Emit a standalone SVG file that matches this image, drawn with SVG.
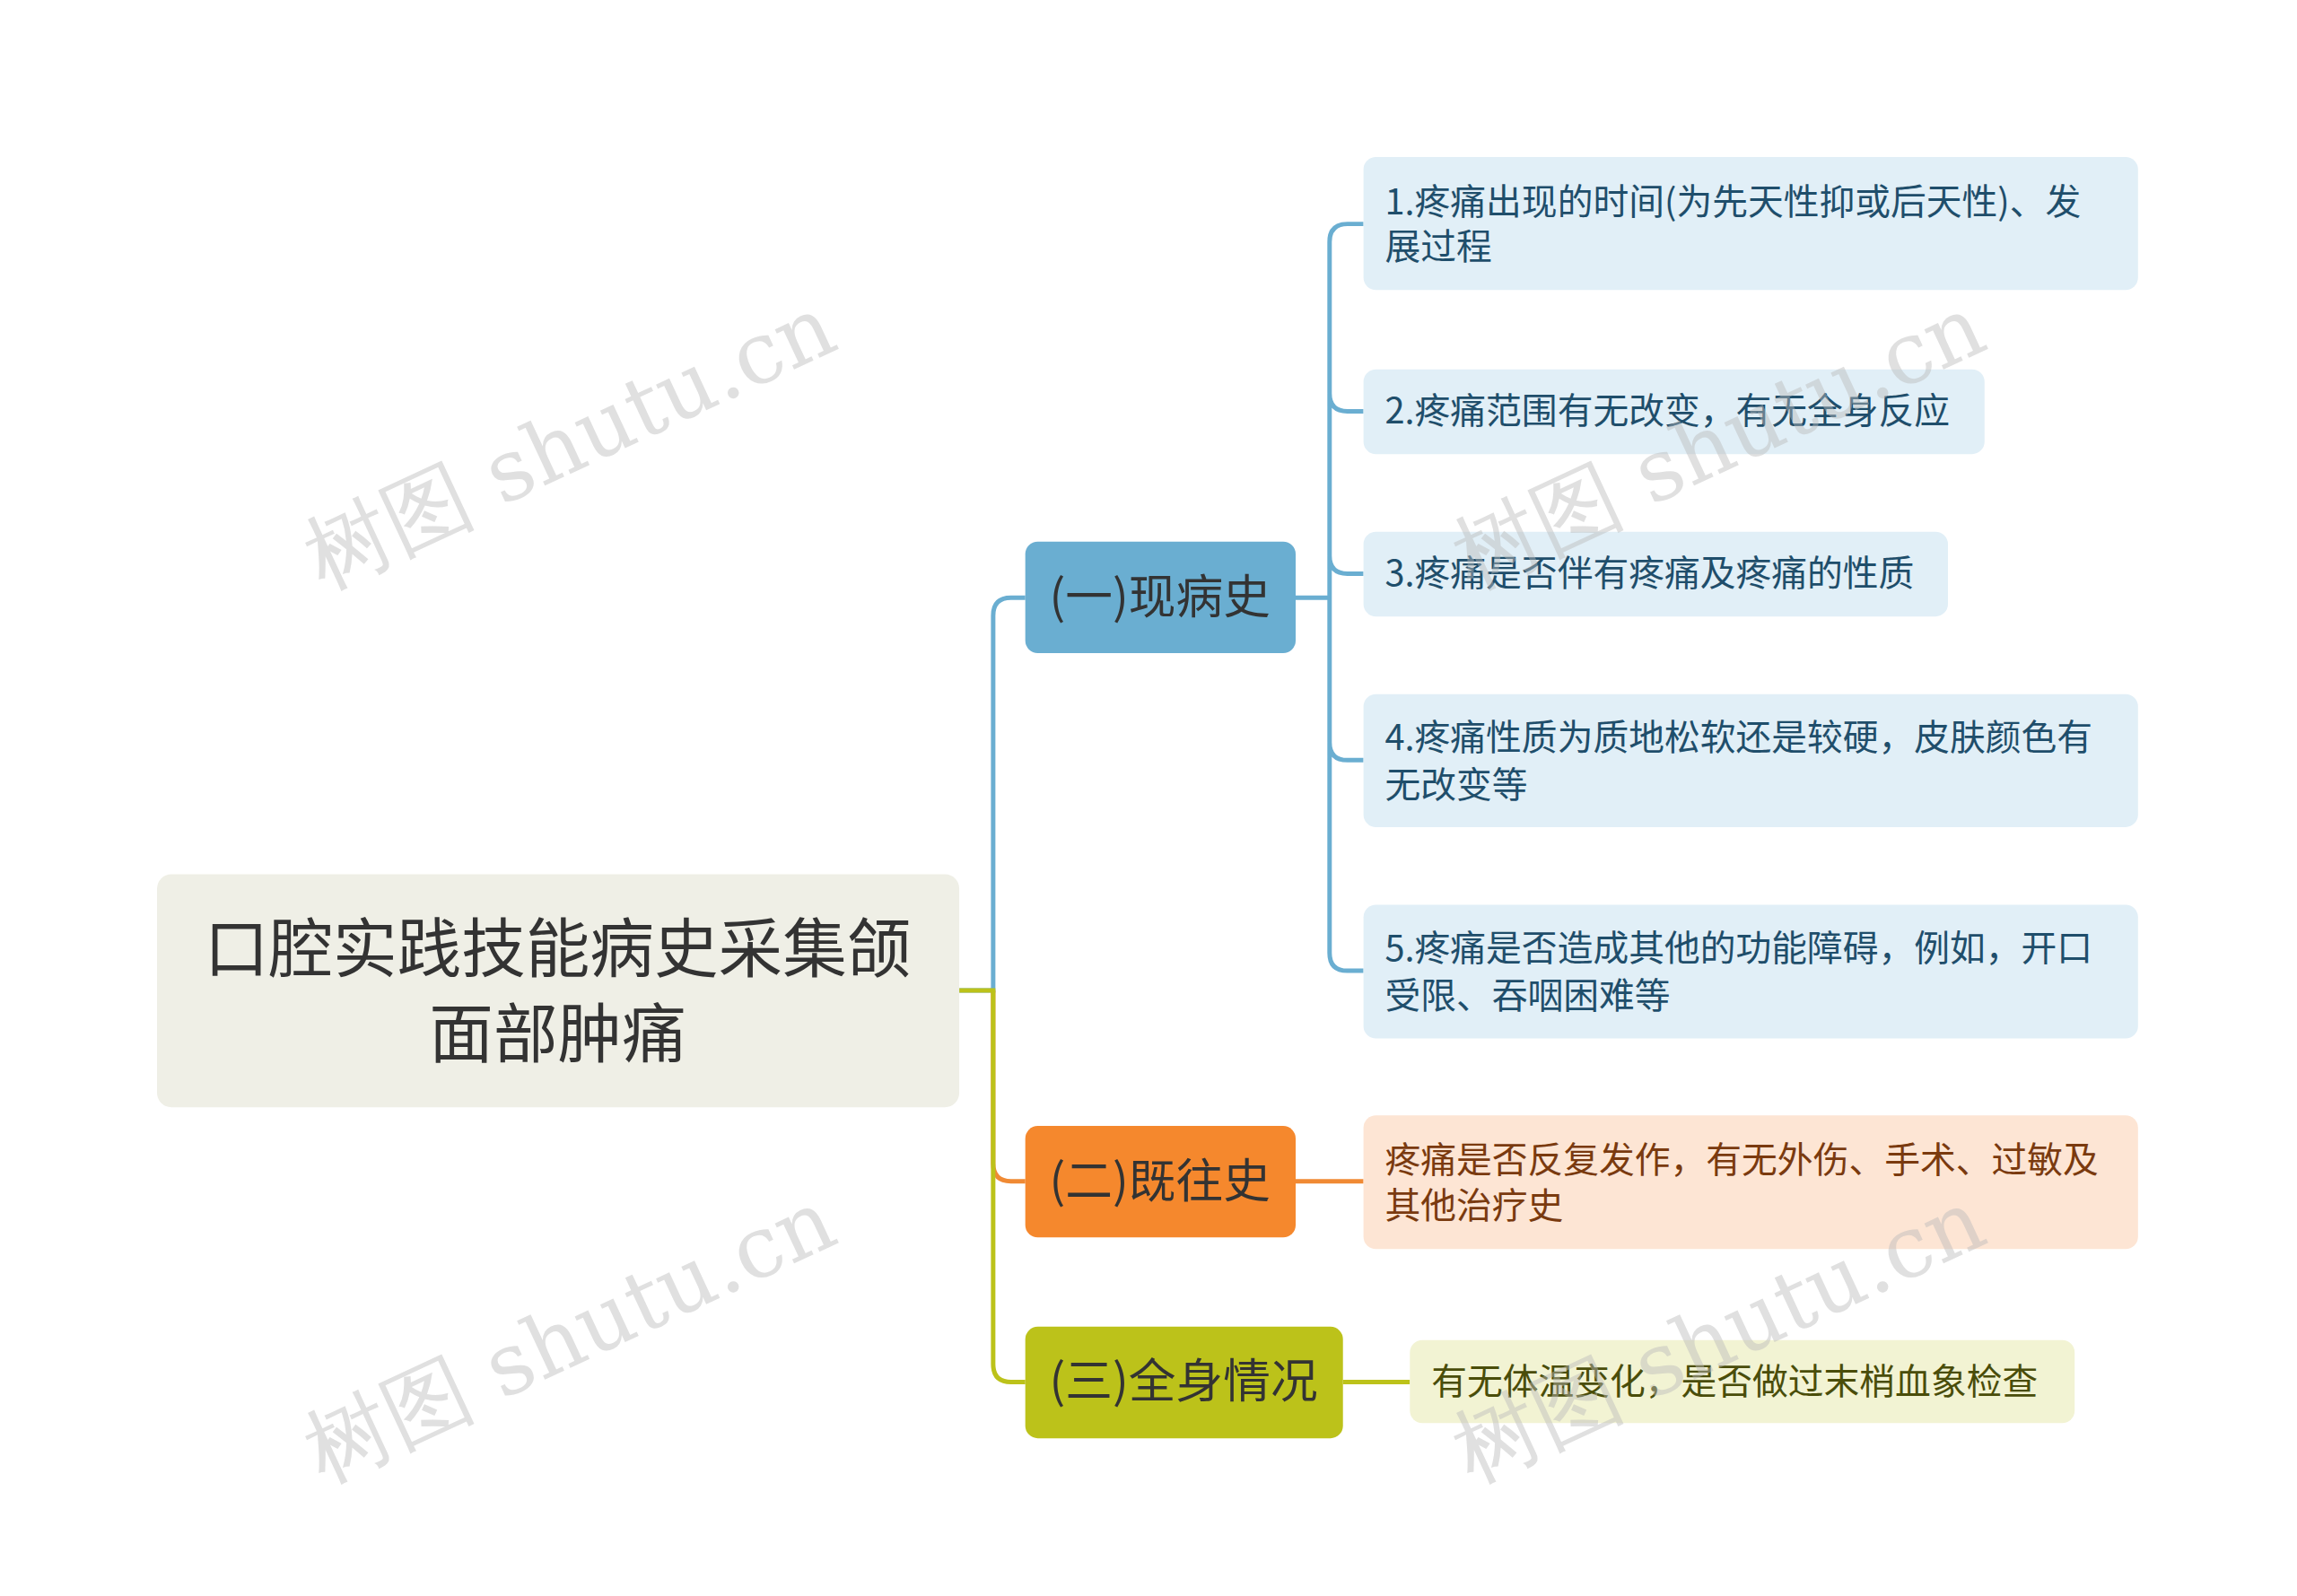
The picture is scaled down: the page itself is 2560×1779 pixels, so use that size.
<svg xmlns="http://www.w3.org/2000/svg" width="2560" height="1779" viewBox="0 0 2560 1779">
<style>
text{font-family:"Noto Sans CJK SC","Noto Sans",sans-serif}
.leaf{fill:#e1eff7}
.lt{font-size:40px;fill:#1f4e6b}
.bt{font-size:53px;fill:#333}
.c{fill:none;stroke-width:5}
.wm{font-size:96px;fill:#bbb;opacity:0.45;font-family:"DejaVu Serif",serif}
</style>
<rect width="2560" height="1779" fill="#fff"/>
<g transform="scale(0.9945)">
<g id="connectors">
<path class="c" stroke="#6aaed1" d="M1075,1110 H1113 V690 Q1113,670 1133,670 H1149"/>
<path class="c" stroke="#f08a34" d="M1113,1110 V1304 Q1113,1324 1133,1324 H1149"/>
<path class="c" stroke="#bcc21a" d="M1075,1110 H1113 V1529 Q1113,1549 1133,1549 H1149"/>
<path class="c" stroke="#6aaed1" d="M1452,670 H1490 M1528,251 H1510 Q1490,251 1490,271 V1068 Q1490,1088 1510,1088 H1528 M1490,441 Q1490,461 1510,461 H1528 M1490,623 Q1490,643 1510,643 H1528 M1490,832 Q1490,852 1510,852 H1528"/>
<path class="c" stroke="#f08a34" d="M1452,1324 H1528"/>
<path class="c" stroke="#bcc21a" d="M1505,1549 H1580"/>
</g>
<g id="root"><rect x="176" y="980" width="899" height="261" rx="16" fill="#efefe6"/>
<text x="625" y="1089" font-size="72" fill="#333" text-anchor="middle">口腔实践技能病史采集颌</text>
<text x="625" y="1185" font-size="72" fill="#333" text-anchor="middle">面部肿痛</text></g>
<g id="b1"><rect x="1149" y="607" width="303" height="125" rx="14" fill="#6aaed1"/><text class="bt" x="1176" y="688">(一)现病史</text></g>
<g id="b2"><rect x="1149" y="1262" width="303" height="125" rx="14" fill="#f5882d"/><text class="bt" x="1176" y="1342">(二)既往史</text></g>
<g id="b3"><rect x="1149" y="1487" width="356" height="125" rx="14" fill="#bcc21a"/><text class="bt" x="1176" y="1567">(三)全身情况</text></g>
<g id="l1"><rect class="leaf" x="1528" y="176" width="868" height="149" rx="14"/><text class="lt" x="1552" y="240">1.疼痛出现的时间(为先天性抑或后天性)、发</text><text class="lt" x="1552" y="291">展过程</text></g>
<g id="l2"><rect class="leaf" x="1528" y="414" width="696" height="95" rx="14"/><text class="lt" x="1552" y="475">2.疼痛范围有无改变，有无全身反应</text></g>
<g id="l3"><rect class="leaf" x="1528" y="596" width="655" height="95" rx="14"/><text class="lt" x="1552" y="657">3.疼痛是否伴有疼痛及疼痛的性质</text></g>
<g id="l4"><rect class="leaf" x="1528" y="778" width="868" height="149" rx="14"/><text class="lt" x="1552" y="841">4.疼痛性质为质地松软还是较硬，皮肤颜色有</text><text class="lt" x="1552" y="894">无改变等</text></g>
<g id="l5"><rect class="leaf" x="1528" y="1014" width="868" height="150" rx="14"/><text class="lt" x="1552" y="1077">5.疼痛是否造成其他的功能障碍，例如，开口</text><text class="lt" x="1552" y="1130">受限、吞咽困难等</text></g>
<g id="l6"><rect x="1528" y="1250" width="868" height="150" rx="14" fill="#fde5d4"/><text class="lt" x="1552" y="1314" style="fill:#7a3a0f">疼痛是否反复发作，有无外伤、手术、过敏及</text><text class="lt" x="1552" y="1366" style="fill:#7a3a0f">其他治疗史</text></g>
<g id="l7"><rect x="1580" y="1502" width="745" height="93" rx="14" fill="#f2f3d3"/><text class="lt" x="1604" y="1563" style="fill:#4a4d0a">有无体温变化，是否做过末梢血象检查</text></g>
<g id="watermarks">
<text class="wm" transform="translate(652,525) rotate(-25)" text-anchor="middle">树图 shutu.cn</text>
<text class="wm" transform="translate(652,1527) rotate(-25)" text-anchor="middle">树图 shutu.cn</text>
<text class="wm" transform="translate(1940,525) rotate(-25)" text-anchor="middle">树图 shutu.cn</text>
<text class="wm" transform="translate(1940,1527) rotate(-25)" text-anchor="middle">树图 shutu.cn</text>
</g>
</g>
</svg>
